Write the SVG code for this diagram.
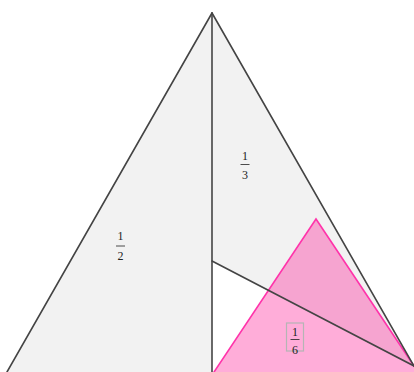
<svg xmlns="http://www.w3.org/2000/svg" width="414" height="372" viewBox="0 0 414 372">
<style>
.reg{fill:#f2f2f2;stroke:none}
.edge{stroke:#444;stroke-width:1.6;fill:none;stroke-linecap:round}
.pink{fill:#ff1493;fill-opacity:0.35;stroke:#ff33aa;stroke-width:1.6}
.num{font-family:"Liberation Serif","DejaVu Serif",serif;font-size:12px;fill:#222;text-anchor:middle}
.bar{stroke:#222;stroke-width:0.8}
.box{fill:none;stroke:#b5b5b5;stroke-width:1.2}
</style>
<rect width="414" height="372" fill="#fff"/>
<g id="half">
<polygon class="reg" points="7,372 212,13 212,372"/>
<text class="num" x="120.5" y="240">1</text>
<line class="bar" x1="116" y1="246" x2="125" y2="246"/>
<text class="num" x="120.5" y="259.5">2</text>
</g>
<g id="third">
<polygon class="reg" points="212,13 414,366 212,261"/>
<text class="num" x="245" y="160">1</text>
<line class="bar" x1="240.5" y1="164.5" x2="249.5" y2="164.5"/>
<text class="num" x="245" y="178.5">3</text>
</g>
<g id="sixth">
<polygon class="pink" points="316,219 212.7,374 419.3,374"/>
<rect class="box" x="286.5" y="323" width="17" height="28"/>
<text class="num" x="295" y="335.5">1</text>
<line class="bar" x1="290.5" y1="339.5" x2="299.5" y2="339.5"/>
<text class="num" x="295" y="353.5">6</text>
</g>
<g id="connectors">
<line class="edge" x1="7" y1="372" x2="212" y2="13"/>
<line class="edge" x1="212" y1="13" x2="414" y2="366"/>
<line class="edge" x1="212" y1="13" x2="212" y2="372"/>
<line class="edge" x1="212" y1="261" x2="414" y2="366"/>
</g>
</svg>
